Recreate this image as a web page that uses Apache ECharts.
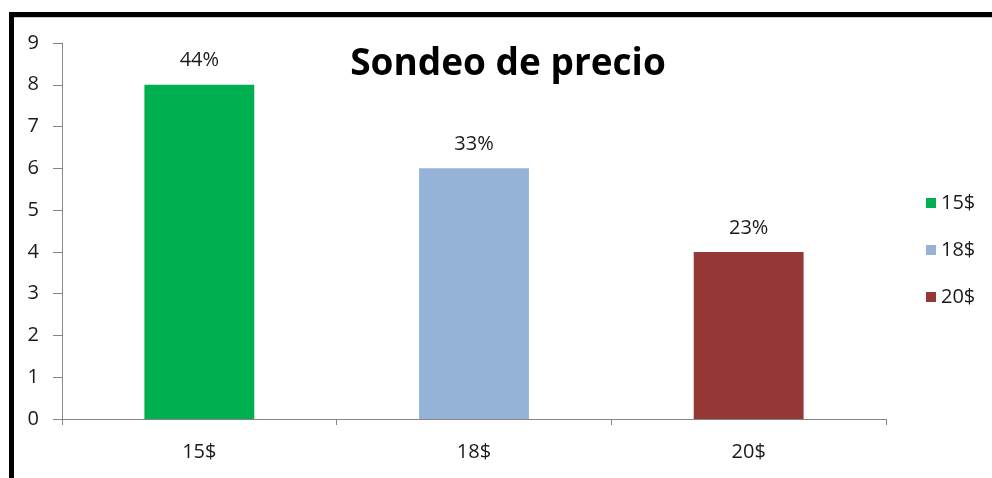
<!DOCTYPE html>
<html>
<head>
<meta charset="utf-8">
<script src="https://cdn.jsdelivr.net/npm/echarts@6/dist/echarts.min.js"></script>
<style>
  html, body { margin: 0; padding: 0; background: #fff; }
  #chart { width: 992px; height: 478px; }
</style>
</head>
<body>
<div id="chart"></div>
<script>
// Price survey: count of answers per price, with share labels
const categories = ['15$', '18$', '20$'];
const counts = [8, 6, 4];
const shareLabels = ['44%', '33%', '23%'];
const colors = ['#00B050', '#95B3D7', '#953735'];
const yTicks = { min: 0, max: 9, interval: 1 };

const FONT = 'Open Sans';
const TEXT = '#1a1a1a';
const SIZE = 20;

// one series per price so each gets its own legend entry; stacking keeps bars centred
const series = categories.map((name, i) => ({
  name: name,
  type: 'bar',
  stack: 'all',
  barWidth: '40%',
  itemStyle: { color: colors[i] },
  data: categories.map((c, j) => (j === i ? counts[i] : null)),
  label: {
    show: true,
    position: 'top',
    distance: 14,
    formatter: () => shareLabels[i],
    color: TEXT,
    fontFamily: FONT,
    fontSize: SIZE
  }
}));

const chart = echarts.init(document.getElementById('chart'));
chart.setOption({
  animation: false,
  backgroundColor: '#fff',
  title: {
    text: 'Sondeo de precio',
    left: 508,
    textAlign: 'center',
    top: 46,
    padding: 0,
    textStyle: { fontFamily: FONT, fontWeight: 'bold', fontSize: 37, color: '#000' }
  },
  legend: {
    orient: 'vertical',
    left: 926,
    top: 193,
    padding: 0,
    itemWidth: 10,
    itemHeight: 10,
    itemGap: 27,
    icon: 'rect',
    data: categories,
    textStyle: { fontFamily: FONT, fontSize: SIZE, color: TEXT, padding: [0, 0, 0, 0] }
  },
  grid: { left: 62, right: 106, top: 43, bottom: 59 },
  xAxis: {
    type: 'category',
    data: categories,
    axisLine: { lineStyle: { color: '#868686', width: 1 } },
    axisTick: { show: true, length: 6, lineStyle: { color: '#868686' } },
    axisLabel: { margin: 23, fontFamily: FONT, fontSize: SIZE, color: TEXT }
  },
  yAxis: {
    type: 'value',
    min: yTicks.min,
    max: yTicks.max,
    interval: yTicks.interval,
    splitLine: { show: false },
    axisLine: { show: true, lineStyle: { color: '#868686', width: 1 } },
    axisTick: { show: true, length: 9, lineStyle: { color: '#868686' } },
    axisLabel: { margin: 23, fontFamily: FONT, fontSize: SIZE, color: TEXT }
  },
  graphic: [
    // heavy frame along the top and left edges
    { type: 'rect', shape: { x: 9, y: 12, width: 990, height: 5 }, style: { fill: '#000' } },
    { type: 'rect', shape: { x: 9, y: 12, width: 5, height: 470 }, style: { fill: '#000' } },
    { type: 'line', shape: { x1: 14, y1: 17.5, x2: 992, y2: 17.5 }, style: { stroke: '#c8c8c8', lineWidth: 1 } }
  ],
  series: series
});
</script>
</body>
</html>
